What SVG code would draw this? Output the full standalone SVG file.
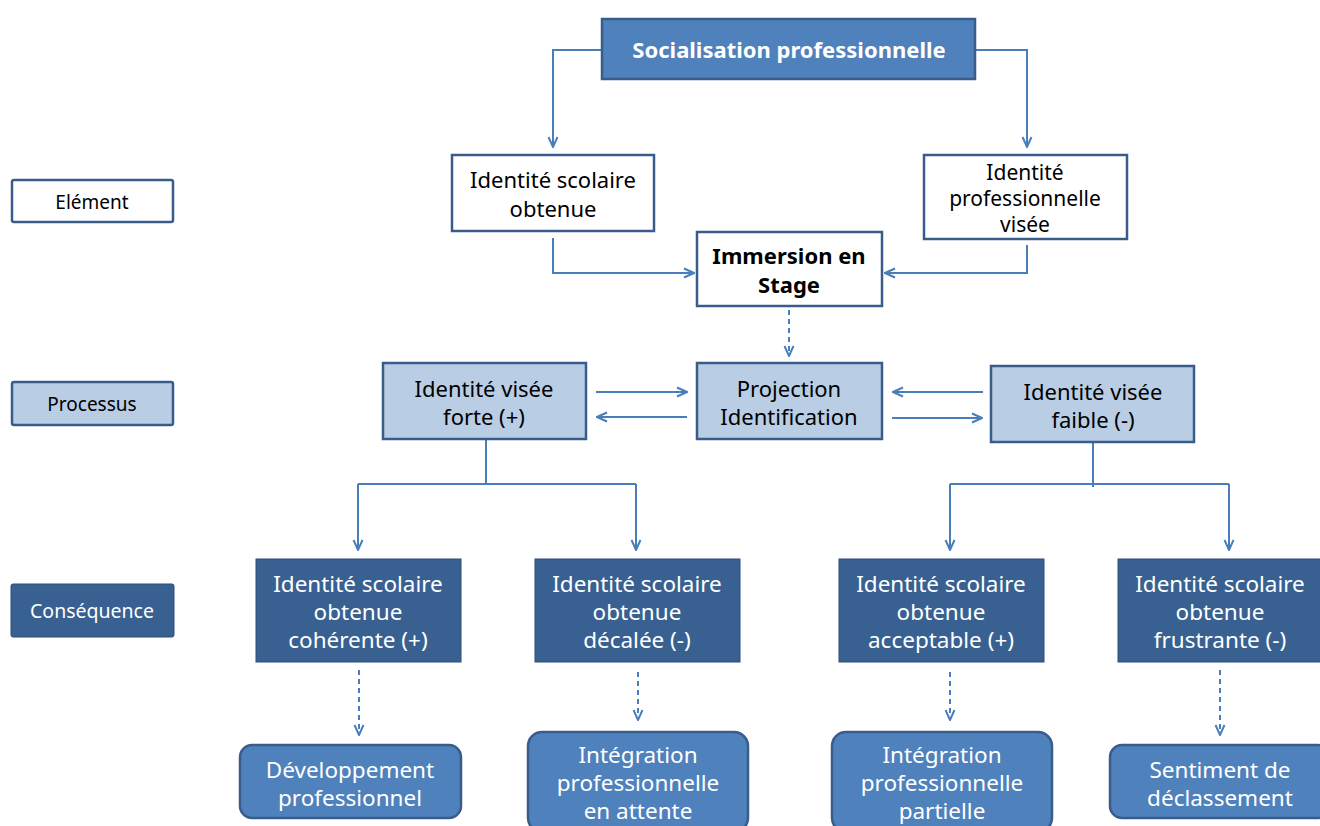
<svg xmlns="http://www.w3.org/2000/svg" width="1320" height="826" viewBox="0 0 1320 826">
<style>
text{font-family:"Noto Sans","Open Sans",sans-serif;text-anchor:middle;}
.t{font-size:22px;fill:#000;}
.w{font-size:22.5px;fill:#fff;}
.b{font-weight:bold;}
.wh{fill:#fff;stroke:#385d8a;stroke-width:2.5;}
.lt{fill:#b9cde5;stroke:#385d8a;stroke-width:2.5;}
.dk{fill:#386192;stroke:#2c4f7a;stroke-width:1;}
.md{fill:#4f81bd;stroke:#385d8a;stroke-width:2.5;}
.c{fill:none;stroke:#4a7ebb;stroke-width:2;}
.d{stroke-dasharray:5 4;}
</style>
<defs>
<marker id="a" viewBox="0 0 12 12" refX="11" refY="6" markerWidth="12" markerHeight="12" markerUnits="userSpaceOnUse" orient="auto">
<path d="M1,1.5 L11,6 L1,10.5" fill="none" stroke="#4a7ebb" stroke-width="2"/>
</marker>
</defs>
<g id="connectors">
<path class="c" d="M602,50 H553 V147" marker-end="url(#a)"/>
<path class="c" d="M975,50 H1027 V147" marker-end="url(#a)"/>
<path class="c" d="M553,238 V273 H694" marker-end="url(#a)"/>
<path class="c" d="M1027,245 V273 H885" marker-end="url(#a)"/>
<path class="c d" d="M789,310 V356" marker-end="url(#a)"/>
<path class="c" d="M596,392 H687" marker-end="url(#a)"/>
<path class="c" d="M687,417 H597" marker-end="url(#a)"/>
<path class="c" d="M983,392 H893" marker-end="url(#a)"/>
<path class="c" d="M892,418 H982" marker-end="url(#a)"/>
<path class="c" d="M486,440 V484"/>
<path class="c" d="M358,484 H636"/>
<path class="c" d="M358,484 V550" marker-end="url(#a)"/>
<path class="c" d="M636,484 V550" marker-end="url(#a)"/>
<path class="c" d="M1093,443 V487"/>
<path class="c" d="M950,484 H1229"/>
<path class="c" d="M950,484 V550" marker-end="url(#a)"/>
<path class="c" d="M1229,484 V550" marker-end="url(#a)"/>
<path class="c d" d="M359,670 V735" marker-end="url(#a)"/>
<path class="c d" d="M638,672 V720" marker-end="url(#a)"/>
<path class="c d" d="M950,672 V720" marker-end="url(#a)"/>
<path class="c d" d="M1220,670 V735" marker-end="url(#a)"/>
</g>
<g id="n-top"><rect class="md" x="602" y="19" width="373" height="60"/><text class="w b" x="789" y="58" style="font-size:22px">Socialisation  professionnelle</text></g>
<g id="n-element"><rect class="wh" x="12" y="180" width="161" height="42" rx="2"/><text class="t" x="92" y="209" style="font-size:19px">Elément</text></g>
<g id="n-processus"><rect class="lt" x="12" y="382" width="161" height="43" rx="2"/><text class="t" x="92" y="411" style="font-size:19px">Processus</text></g>
<g id="n-consequence"><rect class="dk" x="11" y="584" width="163" height="53" rx="2"/><text class="w" x="92" y="618" style="font-size:19.5px">Conséquence</text></g>
<g id="n-scolaire"><rect class="wh" x="452" y="155" width="202" height="76"/><text class="t" x="553" y="188">Identité scolaire</text><text class="t" x="553" y="217">obtenue</text></g>
<g id="n-pro"><rect class="wh" x="924" y="155" width="203" height="84"/><text class="t" x="1025" y="180" style="font-size:21px">Identité</text><text class="t" x="1025" y="206" style="font-size:21px">professionnelle</text><text class="t" x="1025" y="232" style="font-size:21px">visée</text></g>
<g id="n-immersion"><rect class="wh" x="697" y="232" width="185" height="74"/><text class="t b" x="789" y="264">Immersion  en</text><text class="t b" x="789" y="293">Stage</text></g>
<g id="n-forte"><rect class="lt" x="383" y="363" width="203" height="76"/><text class="t" x="484" y="397">Identité visée</text><text class="t" x="484" y="425">forte (+)</text></g>
<g id="n-projection"><rect class="lt" x="697" y="363" width="185" height="76"/><text class="t" x="789" y="397">Projection</text><text class="t" x="789" y="425">Identification</text></g>
<g id="n-faible"><rect class="lt" x="991" y="366" width="203" height="76"/><text class="t" x="1093" y="400">Identité visée</text><text class="t" x="1093" y="428">faible (-)</text></g>
<g id="n-c1"><rect class="dk" x="256" y="559" width="205" height="103"/><text class="w" x="358" y="592">Identité scolaire</text><text class="w" x="358" y="620">obtenue</text><text class="w" x="358" y="648">cohérente (+)</text></g>
<g id="n-c2"><rect class="dk" x="535" y="559" width="205" height="103"/><text class="w" x="637" y="592">Identité scolaire</text><text class="w" x="637" y="620">obtenue</text><text class="w" x="637" y="648">décalée (-)</text></g>
<g id="n-c3"><rect class="dk" x="839" y="559" width="205" height="103"/><text class="w" x="941" y="592">Identité scolaire</text><text class="w" x="941" y="620">obtenue</text><text class="w" x="941" y="648">acceptable (+)</text></g>
<g id="n-c4"><rect class="dk" x="1118" y="559" width="205" height="103"/><text class="w" x="1220" y="592">Identité scolaire</text><text class="w" x="1220" y="620">obtenue</text><text class="w" x="1220" y="648">frustrante (-)</text></g>
<g id="n-o1"><rect class="md" x="240" y="745" width="221" height="73" rx="12"/><text class="w" x="350" y="778">Développement</text><text class="w" x="350" y="806">professionnel</text></g>
<g id="n-o2"><rect class="md" x="528" y="732" width="220" height="100" rx="14"/><text class="w" x="638" y="763">Intégration</text><text class="w" x="638" y="791">professionnelle</text><text class="w" x="638" y="819">en attente</text></g>
<g id="n-o3"><rect class="md" x="832" y="732" width="220" height="100" rx="14"/><text class="w" x="942" y="763">Intégration</text><text class="w" x="942" y="791">professionnelle</text><text class="w" x="942" y="819">partielle</text></g>
<g id="n-o4"><rect class="md" x="1110" y="745" width="220" height="73" rx="12"/><text class="w" x="1220" y="778">Sentiment de</text><text class="w" x="1220" y="806">déclassement</text></g>
</svg>
